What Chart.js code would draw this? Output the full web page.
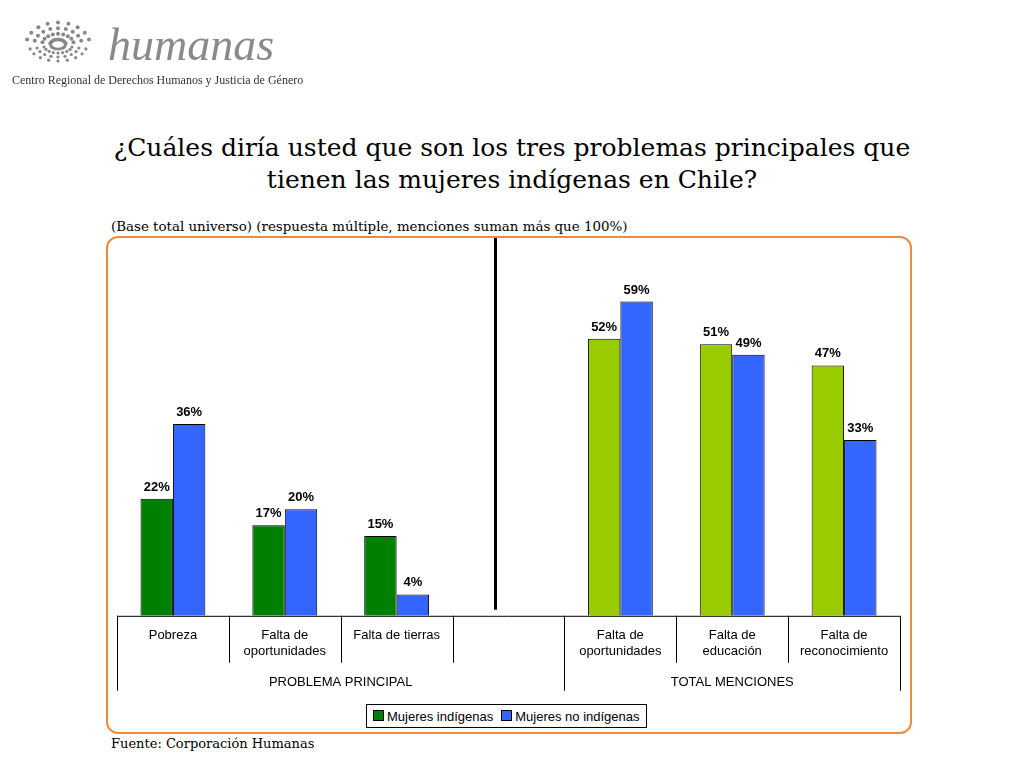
<!DOCTYPE html>
<html><head><meta charset="utf-8">
<script src="https://cdn.jsdelivr.net/npm/chart.js@4/dist/chart.umd.min.js"></script>
<style>
body{margin:0;width:1024px;height:768px;background:#fff;position:relative;overflow:hidden;font-family:"Liberation Sans",Arial,sans-serif}
.abs{position:absolute}
#logo{left:0;top:0;width:310px;height:100px}
#title{left:0;width:1024px;top:132px;text-align:center;font-family:"DejaVu Serif",serif;font-size:25px;line-height:32px;color:#000}
#sub{left:111px;top:219px;font-family:"DejaVu Serif",serif;font-size:13.4px}
#foot{left:111px;top:736px;font-family:"DejaVu Serif",serif;font-size:13px}
#box{left:106px;top:236px;width:802px;height:494px;border:2px solid #f08a3c;border-radius:12px}
#wrap{left:108px;top:238px;width:800px;height:460px}
#legend{left:366px;top:704px;height:22px;border:1px solid #000;font-size:13px;display:flex;align-items:center;padding:0 6px;gap:8px}
.sw{display:inline-block;width:9px;height:9px;border:1px solid #000;margin-right:3px}
</style></head><body>
<canvas id="logo" class="abs" width="310" height="100"></canvas>
<div id="title" class="abs">¿Cuáles diría usted que son los tres problemas principales que<br>tienen las mujeres indígenas en Chile?</div>
<div id="sub" class="abs">(Base total universo) (respuesta múltiple, menciones suman más que 100%)</div>
<div id="box" class="abs"></div>
<div id="wrap" class="abs"><canvas id="c"></canvas></div>
<div id="legend" class="abs"><span><span class="sw" style="background:#008000"></span>Mujeres indígenas</span><span><span class="sw" style="background:#3366ff"></span>Mujeres no indígenas</span></div>
<div id="foot" class="abs">Fuente: Corporación Humanas</div>
<script>
const categories = [['Pobreza'], ['Falta de', 'oportunidades'], ['Falta de tierras'], [''], ['Falta de', 'oportunidades'], ['Falta de', 'educación'], ['Falta de', 'reconocimiento']];
const indigenas = [22, 17, 15, null, 52, 51, 47];
const noIndigenas = [36, 20, 4, null, 59, 49, 33];
const groups = [['PROBLEMA PRINCIPAL', 0, 3], ['TOTAL MENCIONES', 4, 6]];
const greenColors = ['#008000', '#008000', '#008000', '#008000', '#99cc00', '#99cc00', '#99cc00'];

// logo
const lg = document.getElementById('logo').getContext('2d');
lg.fillStyle = '#888';
for (let i = 0; i < 9; i++) for (let j = 0; j < 4; j++) {
  const a = -Math.PI / 2 + (i - 4) * 0.33, r = 8 + j * 8;
  lg.beginPath(); lg.arc(58 + Math.cos(a + Math.PI) * r, 45 + Math.sin(a) * r * 0.7, 2, 0, 7); lg.fill();
  lg.beginPath(); lg.arc(58 + Math.cos(a) * r * 0.9, 45 - Math.sin(a) * r * 0.5, 1.6, 0, 7); lg.fill();
}
lg.font = 'italic 46px "Liberation Serif", serif'; lg.fillStyle = '#8a8a8a'; lg.fillText('humanas', 108, 60);
lg.font = '12px "Liberation Serif", serif'; lg.fillStyle = '#333';
lg.fillText('Centro Regional de Derechos Humanos y Justicia de Género', 12, 84);

const decor = {
  id: 'decor',
  afterDatasetsDraw(chart) {
    const { ctx, chartArea, scales: { x } } = chart;
    ctx.save();
    ctx.font = 'bold 13px "Liberation Sans", Arial'; ctx.fillStyle = '#000'; ctx.textAlign = 'center';
    chart.data.datasets.forEach((ds, di) => {
      chart.getDatasetMeta(di).data.forEach((b, i) => {
        if (ds.data[i] == null) return;
        ctx.fillText(ds.data[i] + '%', b.x, b.y - 8);
      });
    });
    const half = (x.getPixelForValue(1) - x.getPixelForValue(0)) / 2;
    const base = chartArea.bottom;
    ctx.strokeStyle = '#000'; ctx.lineWidth = 1;
    ctx.beginPath(); ctx.moveTo(chartArea.left, base + 0.5); ctx.lineTo(chartArea.right, base + 0.5); ctx.stroke();
    for (let i = 0; i <= categories.length; i++) {
      const px = Math.round(x.getPixelForValue(0) - half + i * half * 2) + 0.5;
      const isEdge = i === 0 || i === 4 || i === categories.length;
      ctx.beginPath(); ctx.moveTo(px, base); ctx.lineTo(px, base + (isEdge ? 75 : 47)); ctx.stroke();
    }
    ctx.font = '13px "Liberation Sans", Arial';
    groups.forEach(([t, a, b]) => {
      ctx.fillText(t, (x.getPixelForValue(a) + x.getPixelForValue(b)) / 2, base + 70);
    });
    const mid = x.getPixelForValue(3) - 13;
    ctx.lineWidth = 3;
    ctx.beginPath(); ctx.moveTo(mid, chartArea.top - 6); ctx.lineTo(mid, base - 6); ctx.stroke();
    ctx.restore();
  }
};

new Chart(document.getElementById('c'), {
  type: 'bar',
  data: {
    labels: categories,
    datasets: [
      { label: 'Mujeres indígenas', data: indigenas, backgroundColor: greenColors, borderColor: '#000', borderWidth: 1 },
      { label: 'Mujeres no indígenas', data: noIndigenas, backgroundColor: '#3366ff', borderColor: '#000', borderWidth: 1 }
    ]
  },
  options: {
    responsive: true, maintainAspectRatio: false, animation: false,
    layout: { padding: { left: 9, right: 8, top: 5, bottom: 35 } },
    categoryPercentage: 0.58, barPercentage: 1,
    plugins: { legend: { display: false }, tooltip: { enabled: false } },
    scales: {
      x: { grid: { display: false }, border: { display: false },
           ticks: { color: '#000', font: { size: 13, family: '"Liberation Sans", Arial' }, padding: 4, maxRotation: 0, autoSkip: false } },
      y: { display: false, min: 0, max: 70 }
    }
  },
  plugins: [decor]
});
</script>
</body></html>
